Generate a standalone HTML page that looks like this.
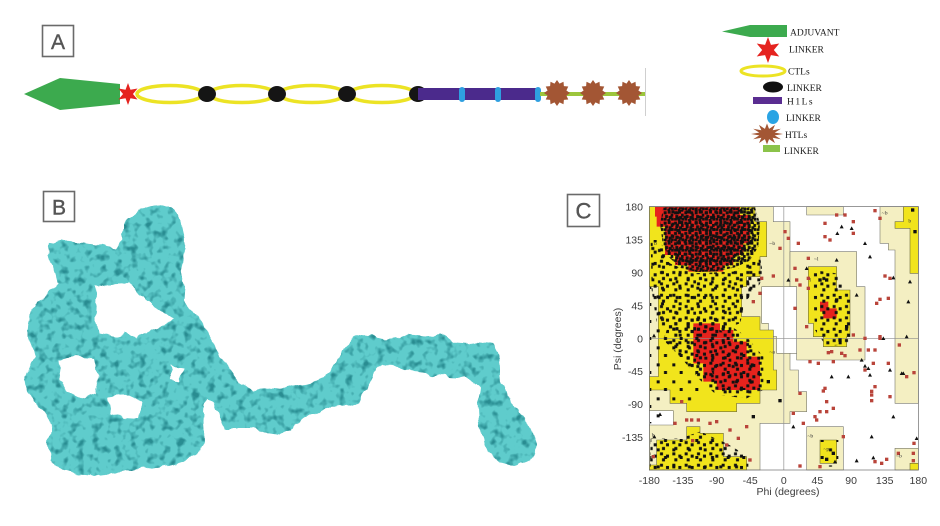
<!DOCTYPE html>
<html><head><meta charset="utf-8">
<style>
html,body{margin:0;padding:0;background:#fff;width:940px;height:526px;overflow:hidden}
svg{display:block}
</style></head>
<body>
<svg width="940" height="526" viewBox="0 0 940 526" xmlns="http://www.w3.org/2000/svg" xmlns:xlink="http://www.w3.org/1999/xlink">
<defs>
  <path id="star6" d="M0,-10 L2.25,-3.9 L8.66,-5 L4.5,0 L8.66,5 L2.25,3.9 L0,10 L-2.25,3.9 L-8.66,5 L-4.5,0 L-8.66,-5 L-2.25,-3.9 Z"/>
  <path id="gear" d="M0,-10 L1.94,-7.24 L5,-8.66 L5.3,-5.3 L8.66,-5 L7.24,-1.94 L10,0 L7.24,1.94 L8.66,5 L5.3,5.3 L5,8.66 L1.94,7.24 L0,10 L-1.94,7.24 L-5,8.66 L-5.3,5.3 L-8.66,5 L-7.24,1.94 L-10,0 L-7.24,-1.94 L-8.66,-5 L-5.3,-5.3 L-5,-8.66 L-1.94,-7.24 Z"/>
  <path id="spiky" d="M0,-10 L1.29,-4.83 L5,-8.66 L3.54,-3.54 L8.66,-5 L4.83,-1.29 L10,0 L4.83,1.29 L8.66,5 L3.54,3.54 L5,8.66 L1.29,4.83 L0,10 L-1.29,4.83 L-5,8.66 L-3.54,3.54 L-8.66,5 L-4.83,1.29 L-10,0 L-4.83,-1.29 L-8.66,-5 L-3.54,-3.54 L-5,-8.66 L-1.29,-4.83 Z"/>
  <rect id="rs" x="-5" y="-5" width="10" height="10" fill="#b9443a"/>
  <rect id="bs" x="-5" y="-5" width="10" height="10" fill="#111"/>
  <path id="tri" d="M0,-6 L6,5 L-6,5 Z" fill="#111"/>
  <pattern id="pd1" patternUnits="userSpaceOnUse" width="31" height="31">
    <path fill="#111" d="M1 2h9v9h-9z M13 0h9v9h-9z M22 9h8v9h-8z M5 13h9v9h-9z M16 16h9v9h-9z M1 22h9v8h-9z M23 21h8v9h-8z M12 25h9v6h-9z"/>
  </pattern>
  <pattern id="pd2" patternUnits="userSpaceOnUse" width="43" height="37">
    <path fill="#111" d="M5 6h9v9h-9z M27 3h9v9h-9z M17 19h9v9h-9z M33 24h9v9h-9z M4 27h9v9h-9z"/>
  </pattern>
  <pattern id="pm1" patternUnits="userSpaceOnUse" width="37" height="34">
    <path fill="#111" d="M4 5h9v9h-9z M22 12h9v9h-9z M10 23h9v9h-9z"/>
  </pattern>
  <pattern id="pm2" patternUnits="userSpaceOnUse" width="53" height="47">
    <path fill="#111" d="M9 30h9v9h-9z M38 8h9v9h-9z M29 36h8v9h-8z"/>
  </pattern>
  <pattern id="ps" patternUnits="userSpaceOnUse" width="47" height="51">
    <path fill="#111" d="M8 10h9v9h-9z M30 33h9v9h-9z"/>
  </pattern>
  <filter id="prot" x="-10%" y="-10%" width="120%" height="120%" color-interpolation-filters="sRGB">
    <feTurbulence type="fractalNoise" baseFrequency="0.08" numOctaves="2" seed="4" result="n1"/>
    <feDisplacementMap in="SourceGraphic" in2="n1" scale="8" xChannelSelector="R" yChannelSelector="G" result="d"/>
    <feTurbulence type="fractalNoise" baseFrequency="0.13" numOctaves="2" seed="9" result="n2"/>
    <feColorMatrix in="n2" type="matrix" values="0 0 0 0 0.16  0 0 0 0 0.55  0 0 0 0 0.57  -3.5 0 0 0 1.75" result="dk"/>
    <feComposite in="dk" in2="d" operator="in" result="dk2"/>
    <feMerge><feMergeNode in="d"/><feMergeNode in="dk2"/></feMerge>
  </filter>
</defs>

<rect width="940" height="526" fill="#fff"/>

<!-- ===== Panel A ===== -->
<rect x="42.5" y="25.5" width="31" height="31" fill="none" stroke="#6a6a6a" stroke-width="1.6"/>
<text x="58" y="49" font-family="Liberation Sans, sans-serif" font-size="21" fill="#555" stroke="#555" stroke-width="0.4" text-anchor="middle">A</text>

<g fill="none" stroke="#ece324" stroke-width="3.5">
  <ellipse cx="170" cy="94" rx="33" ry="8.5"/>
  <ellipse cx="242" cy="94" rx="33" ry="8.5"/>
  <ellipse cx="312" cy="94" rx="33" ry="8.5"/>
  <ellipse cx="382" cy="94" rx="33" ry="8.5"/>
</g>
<polygon points="24,94 60,78 120,84 120,104 60,110" fill="#3caa4e"/>
<use xlink:href="#star6" href="#star6" transform="translate(128,94) scale(1.1)" fill="#e5231f"/>
<g fill="#151515">
  <ellipse cx="207" cy="94" rx="9" ry="8"/>
  <ellipse cx="277" cy="94" rx="9" ry="8"/>
  <ellipse cx="347" cy="94" rx="9" ry="8"/>
  <ellipse cx="418" cy="94" rx="9" ry="8"/>
</g>
<rect x="418" y="88" width="122" height="12" fill="#4b2a8c"/>
<g fill="#2e9fe0">
  <rect x="459" y="87" width="6" height="15" rx="3"/>
  <rect x="495" y="87" width="6" height="15" rx="3"/>
  <rect x="535" y="87" width="6" height="15" rx="3"/>
</g>
<line x1="540" y1="94" x2="645" y2="94" stroke="#9cc63c" stroke-width="4"/>
<g fill="#a35634">
  <use xlink:href="#gear" href="#gear" transform="translate(557,93) scale(1.3)"/>
  <use xlink:href="#gear" href="#gear" transform="translate(593,93) scale(1.3)"/>
  <use xlink:href="#gear" href="#gear" transform="translate(629,93) scale(1.3)"/>
</g>
<line x1="645.5" y1="68" x2="645.5" y2="116" stroke="#cfcfcf" stroke-width="1"/>

<!-- Legend -->
<g font-family="Liberation Serif, serif" font-size="9.5" fill="#1a1a1a">
  <polygon points="722,31.5 750,25 787,25 787,37 750,37" fill="#3caa4e"/>
  <text x="790" y="35.5">ADJUVANT</text>
  <use xlink:href="#star6" href="#star6" transform="translate(768,50) scale(1.3)" fill="#e5231f"/>
  <text x="789" y="52.5">LINKER</text>
  <ellipse cx="763" cy="71" rx="22" ry="5" fill="none" stroke="#ece324" stroke-width="3"/>
  <text x="788" y="74.5">CTLs</text>
  <ellipse cx="773" cy="87" rx="10" ry="5.5" fill="#111"/>
  <text x="787" y="91">LINKER</text>
  <rect x="753" y="97" width="29" height="7" fill="#5a2d91"/>
  <text x="787" y="104.5" letter-spacing="1.5">H1Ls</text>
  <ellipse cx="773" cy="117" rx="6" ry="7" fill="#2aa4e4"/>
  <text x="786" y="121">LINKER</text>
  <use xlink:href="#spiky" href="#spiky" transform="translate(767,134) scale(1.6,1.05)" fill="#a35634"/>
  <text x="785" y="138">HTLs</text>
  <rect x="763" y="145" width="17" height="7" fill="#8bc34a"/>
  <text x="784" y="154">LINKER</text>
</g>

<!-- ===== Panel B ===== -->
<rect x="43.5" y="191.5" width="31" height="30" fill="none" stroke="#6a6a6a" stroke-width="1.6"/>
<text x="59" y="214.5" font-family="Liberation Sans, sans-serif" font-size="21" fill="#555" stroke="#555" stroke-width="0.4" text-anchor="middle">B</text>

<g filter="url(#prot)">
<path fill="#5fcccc" fill-rule="evenodd" d="
M160,205 L172,207 L179,214 L182,226 L185,240 L184,256 L181,270 L184,285 L183,300 L190,311 L199,316 L206,330 L214,345 L222,358 L230,370 L240,384 L255,390 L270,389 L283,387 L298,385 L312,382 L325,376 L334,366 L342,352 L350,340 L360,335 L370,334 L387,340 L400,338 L410,334 L425,336 L440,334 L455,341 L470,342 L482,344 L495,345 L499,360 L500,376 L507,396 L520,415 L532,430 L537,445 L530,460 L515,467 L500,463 L488,452 L481,435 L478,418 L477,402 L480,388 L467,378 L450,377 L430,374 L407,371 L392,366 L382,364 L374,372 L366,388 L358,404 L345,406 L332,405 L318,412 L305,418 L292,428 L280,434 L265,432 L250,428 L236,428 L224,428 L216,412 L209,398 L204,404 L203,422 L204,440 L198,455 L184,461 L168,465 L150,468 L130,470 L112,473 L95,476 L76,474 L60,470 L50,460 L48,442 L51,425 L44,410 L34,402 L27,390 L25,376 L29,364 L36,356 L31,345 L28,330 L31,314 L39,301 L50,292 L58,283 L54,270 L48,256 L50,244 L62,240 L80,243 L98,246 L116,249 L122,238 L124,224 L133,214 L146,208 Z
M95,287 L110,284 L128,283 L140,292 L152,305 L172,318 L162,326 L148,331 L136,338 L126,331 L115,337 L100,334 L95,320 L96,300 Z
M58,360 L75,356 L95,358 L99,375 L96,394 L85,398 L70,392 L60,380 Z
M107,397 L128,395 L143,402 L140,418 L125,417 L110,414 Z
M170,366 L182,368 L180,382 L171,380 Z"/>
</g>

<!-- ===== Panel C ===== -->
<rect x="567.5" y="194.5" width="32" height="32" fill="none" stroke="#6a6a6a" stroke-width="1.6"/>
<text x="583.5" y="218.5" font-family="Liberation Sans, sans-serif" font-size="22" fill="#555" stroke="#555" stroke-width="0.4" text-anchor="middle">C</text>

<g transform="translate(560 190) scale(0.333333)">
  <rect x="268" y="50" width="807" height="790" fill="#fff"/>
  <g fill="#f4efc2" stroke="#77776a" stroke-width="1.8">
    <polygon points="268,50 640,50 640,95 690,95 690,540 715,540 715,605 740,605 740,665 690,665 690,700 600,700 600,840 268,840"/>
    <polygon points="690,185 890,185 890,290 915,290 915,510 710,510 710,290 690,290"/>
    <polygon points="740,50 850,50 850,75 740,75"/>
    <polygon points="740,710 850,710 850,840 740,840"/>
    <polygon points="960,50 1075,50 1075,640 1005,640 1005,180 985,180 985,160 960,160"/>
    <polygon points="1005,775 1075,775 1075,840 1005,840"/>
  </g>
  <g fill="#fff" stroke="#77776a" stroke-width="1.8">
    <polygon points="605,290 710,290 710,490 650,490 650,440 625,440 625,400 605,400"/>
    <polygon points="268,662 340,662 340,705 268,705"/>
  </g>
  <g fill="#f1e41c" stroke="#6d6a3a" stroke-width="1.8">
    <polygon points="268,50 585,50 585,95 620,95 620,200 600,200 600,260 560,260 560,290 545,290 545,380 600,380 600,420 640,420 640,540 650,540 650,600 600,600 600,640 530,640 530,665 380,665 380,640 330,640 330,600 268,600 268,560 295,560 295,290 268,290"/>
    <polygon points="290,750 380,750 380,710 420,710 420,730 490,730 490,800 560,800 560,840 268,840 268,825 290,825"/>
    <polygon points="745,230 830,230 830,300 870,300 870,440 860,440 860,470 790,470 790,440 760,440 760,400 745,400 745,300"/>
    <polygon points="780,750 830,750 830,820 780,820"/>
    <polygon points="1030,50 1075,50 1075,250 1050,250 1050,115 1005,115 1005,95 1030,95"/>
    <polygon points="1050,820 1075,820 1075,840 1050,840"/>
  </g>
  <g fill="#e6231d">
    <polygon points="285,50 540,50 540,75 570,75 570,160 550,160 550,195 520,195 520,225 490,225 490,245 385,245 385,225 345,225 345,195 315,195 315,110 290,110 290,80 285,80"/>
    <polygon points="400,400 480,400 480,420 520,420 520,455 560,455 560,500 600,500 600,600 470,600 470,575 430,575 430,520 400,520"/>
    <polygon points="780,335 805,335 805,355 830,355 830,385 790,385 790,365 780,365"/>
  </g>
  <line x1="671.5" y1="50" x2="671.5" y2="840" stroke="#8c8c8c" stroke-width="2"/>
  <line x1="268" y1="445" x2="1075" y2="445" stroke="#8c8c8c" stroke-width="2"/>

  <!-- dense dots -->
  <polygon points="310,52 585,52 600,100 595,170 570,212 525,232 470,244 410,246 362,234 325,200 308,160 300,100" fill="url(#pd1)"/>
  <polygon points="330,60 570,60 585,110 575,170 540,210 470,230 400,232 350,200 330,150" fill="url(#pd2)"/>
  <polygon points="272,150 300,150 330,220 400,250 520,245 600,200 610,260 590,300 560,330 540,400 480,420 400,430 330,420 290,400 275,300" fill="url(#pm1)"/>
  <polygon points="272,150 300,150 330,220 400,250 520,245 600,200 610,260 590,300 560,330 540,400 480,420 400,430 330,420 290,400 275,300" fill="url(#pm2)"/>
  <polygon points="330,390 470,380 560,440 610,500 610,600 560,625 470,615 420,570 360,500 310,450" fill="url(#pm1)"/>
  <polygon points="330,390 470,380 560,440 610,500 610,600 560,625 470,615 420,570 360,500 310,450" fill="url(#pm2)"/>
  <polygon points="400,420 480,420 560,480 600,520 600,600 480,600" fill="url(#ps)"/>
  <polygon points="272,745 360,745 420,725 500,760 565,800 565,838 270,838" fill="url(#pm1)"/>
  <polygon points="272,745 360,745 420,725 500,760 565,800 565,838 270,838" fill="url(#ps)"/>
  <polygon points="760,240 830,250 870,320 870,460 800,470 765,420 760,300" fill="url(#pm1)"/>
  <rect x="270" y="290" width="30" height="410" fill="url(#ps)"/>
  <rect x="300" y="430" width="120" height="210" fill="url(#ps)"/>
  <rect x="775" y="750" width="60" height="80" fill="url(#ps)"/>

  <!-- scattered black squares -->
  <g>
    <use href="#bs" x="1058" y="60"/><use href="#bs" x="1065" y="125"/><use href="#bs" x="800" y="270"/>
    <use href="#bs" x="830" y="330"/><use href="#bs" x="860" y="410"/><use href="#bs" x="840" y="450"/>
    <use href="#bs" x="660" y="632"/><use href="#bs" x="625" y="575"/><use href="#bs" x="580" y="680"/>
    <use href="#bs" x="800" y="808"/><use href="#bs" x="820" y="790"/><use href="#bs" x="780" y="270"/>
  </g>
  <!-- red squares -->
  <g>
    <use href="#rs" x="830" y="75"/><use href="#rs" x="855" y="75"/><use href="#rs" x="795" y="100"/>
    <use href="#rs" x="880" y="95"/><use href="#rs" x="795" y="140"/><use href="#rs" x="810" y="150"/>
    <use href="#rs" x="880" y="130"/><use href="#rs" x="715" y="160"/><use href="#rs" x="685" y="145"/>
    <use href="#rs" x="660" y="175"/><use href="#rs" x="745" y="205"/><use href="#rs" x="705" y="235"/>
    <use href="#rs" x="745" y="265"/><use href="#rs" x="640" y="258"/><use href="#rs" x="605" y="265"/>
    <use href="#rs" x="710" y="270"/><use href="#rs" x="720" y="285"/><use href="#rs" x="745" y="295"/>
    <use href="#rs" x="600" y="310"/><use href="#rs" x="580" y="335"/><use href="#rs" x="705" y="355"/>
    <use href="#rs" x="740" y="410"/><use href="#rs" x="880" y="435"/><use href="#rs" x="915" y="445"/>
    <use href="#rs" x="1018" y="465"/><use href="#rs" x="900" y="480"/><use href="#rs" x="960" y="445"/>
    <use href="#rs" x="945" y="480"/><use href="#rs" x="925" y="480"/><use href="#rs" x="845" y="490"/>
    <use href="#rs" x="855" y="497"/><use href="#rs" x="805" y="488"/><use href="#rs" x="815" y="485"/>
    <use href="#rs" x="750" y="515"/><use href="#rs" x="775" y="520"/><use href="#rs" x="820" y="515"/>
    <use href="#rs" x="940" y="520"/><use href="#rs" x="915" y="540"/><use href="#rs" x="945" y="590"/>
    <use href="#rs" x="985" y="520"/><use href="#rs" x="1062" y="548"/><use href="#rs" x="795" y="595"/>
    <use href="#rs" x="790" y="603"/><use href="#rs" x="800" y="635"/><use href="#rs" x="780" y="665"/>
    <use href="#rs" x="800" y="665"/><use href="#rs" x="820" y="655"/><use href="#rs" x="770" y="690"/>
    <use href="#rs" x="765" y="680"/><use href="#rs" x="720" y="610"/><use href="#rs" x="700" y="670"/>
    <use href="#rs" x="730" y="700"/><use href="#rs" x="720" y="828"/><use href="#rs" x="780" y="830"/>
    <use href="#rs" x="935" y="615"/><use href="#rs" x="935" y="632"/><use href="#rs" x="990" y="620"/>
    <use href="#rs" x="950" y="340"/><use href="#rs" x="960" y="328"/><use href="#rs" x="985" y="325"/>
    <use href="#rs" x="975" y="258"/><use href="#rs" x="990" y="265"/><use href="#rs" x="1060" y="790"/>
    <use href="#rs" x="1060" y="812"/><use href="#rs" x="1015" y="790"/><use href="#rs" x="965" y="820"/>
    <use href="#rs" x="980" y="808"/><use href="#rs" x="945" y="815"/><use href="#rs" x="850" y="740"/>
    <use href="#rs" x="365" y="635"/><use href="#rs" x="380" y="690"/><use href="#rs" x="395" y="690"/>
    <use href="#rs" x="415" y="690"/><use href="#rs" x="450" y="700"/><use href="#rs" x="470" y="695"/>
    <use href="#rs" x="510" y="720"/><use href="#rs" x="535" y="745"/><use href="#rs" x="560" y="710"/>
    <use href="#rs" x="570" y="810"/><use href="#rs" x="345" y="700"/><use href="#rs" x="398" y="752"/>
    <use href="#rs" x="500" y="765"/><use href="#rs" x="280" y="800"/><use href="#rs" x="1062" y="760"/>
    <use href="#rs" x="675" y="125"/><use href="#rs" x="945" y="62"/><use href="#rs" x="960" y="85"/>
    <use href="#rs" x="960" y="440"/><use href="#rs" x="1040" y="560"/><use href="#rs" x="935" y="604"/>
  </g>
  <!-- triangles -->
  <g>
    <use href="#tri" x="845" y="110"/><use href="#tri" x="875" y="115"/><use href="#tri" x="832" y="130"/>
    <use href="#tri" x="915" y="160"/><use href="#tri" x="930" y="200"/><use href="#tri" x="830" y="210"/>
    <use href="#tri" x="1000" y="263"/><use href="#tri" x="1050" y="275"/><use href="#tri" x="1045" y="335"/>
    <use href="#tri" x="1040" y="440"/><use href="#tri" x="1030" y="550"/><use href="#tri" x="990" y="540"/>
    <use href="#tri" x="905" y="510"/><use href="#tri" x="915" y="528"/><use href="#tri" x="925" y="535"/>
    <use href="#tri" x="930" y="555"/><use href="#tri" x="890" y="315"/><use href="#tri" x="970" y="445"/>
    <use href="#tri" x="815" y="560"/><use href="#tri" x="685" y="270"/><use href="#tri" x="740" y="235"/>
    <use href="#tri" x="1000" y="680"/><use href="#tri" x="935" y="740"/><use href="#tri" x="1070" y="745"/>
    <use href="#tri" x="825" y="815"/><use href="#tri" x="890" y="812"/><use href="#tri" x="940" y="803"/>
    <use href="#tri" x="700" y="710"/><use href="#tri" x="300" y="673"/><use href="#tri" x="282" y="437"/>
    <use href="#tri" x="283" y="740"/><use href="#tri" x="1025" y="550"/><use href="#tri" x="865" y="560"/>
  </g>
  <!-- tiny region labels -->
  <g font-family="Liberation Serif, serif" font-size="17" fill="#333">
    <text x="282" y="165">b</text>
    <text x="306" y="388">a</text>
    <text x="628" y="165">~b</text>
    <text x="762" y="212">~l</text>
    <text x="748" y="275">l</text>
    <text x="628" y="490">~a</text>
    <text x="742" y="742">~b</text>
    <text x="790" y="782">~p</text>
    <text x="1008" y="803">~b</text>
    <text x="1045" y="98">b</text>
    <text x="965" y="74">~b</text>
    <text x="275" y="740">b</text>
  </g>
  <rect x="268" y="50" width="807" height="790" fill="none" stroke="#666" stroke-width="2"/>
</g>

<!-- axis labels -->
<g font-family="Liberation Sans, sans-serif" font-size="10.5" fill="#3c3c3c">
  <g text-anchor="middle">
    <text x="649.3" y="484">-180</text>
    <text x="682.9" y="484">-135</text>
    <text x="716.6" y="484">-90</text>
    <text x="750.2" y="484">-45</text>
    <text x="783.8" y="484">0</text>
    <text x="817.4" y="484">45</text>
    <text x="851.1" y="484">90</text>
    <text x="884.7" y="484">135</text>
    <text x="918.3" y="484">180</text>
  </g>
  <g text-anchor="end">
    <text x="643" y="210.7">180</text>
    <text x="643" y="243.6">135</text>
    <text x="643" y="276.5">90</text>
    <text x="643" y="309.4">45</text>
    <text x="643" y="342.3">0</text>
    <text x="643" y="375.2">-45</text>
    <text x="643" y="408.1">-90</text>
    <text x="643" y="441">-135</text>
  </g>
  <text x="788" y="495" text-anchor="middle">Phi (degrees)</text>
  <text transform="translate(621,339) rotate(-90)" text-anchor="middle">Psi (degrees)</text>
</g>
</svg>
</body></html>
